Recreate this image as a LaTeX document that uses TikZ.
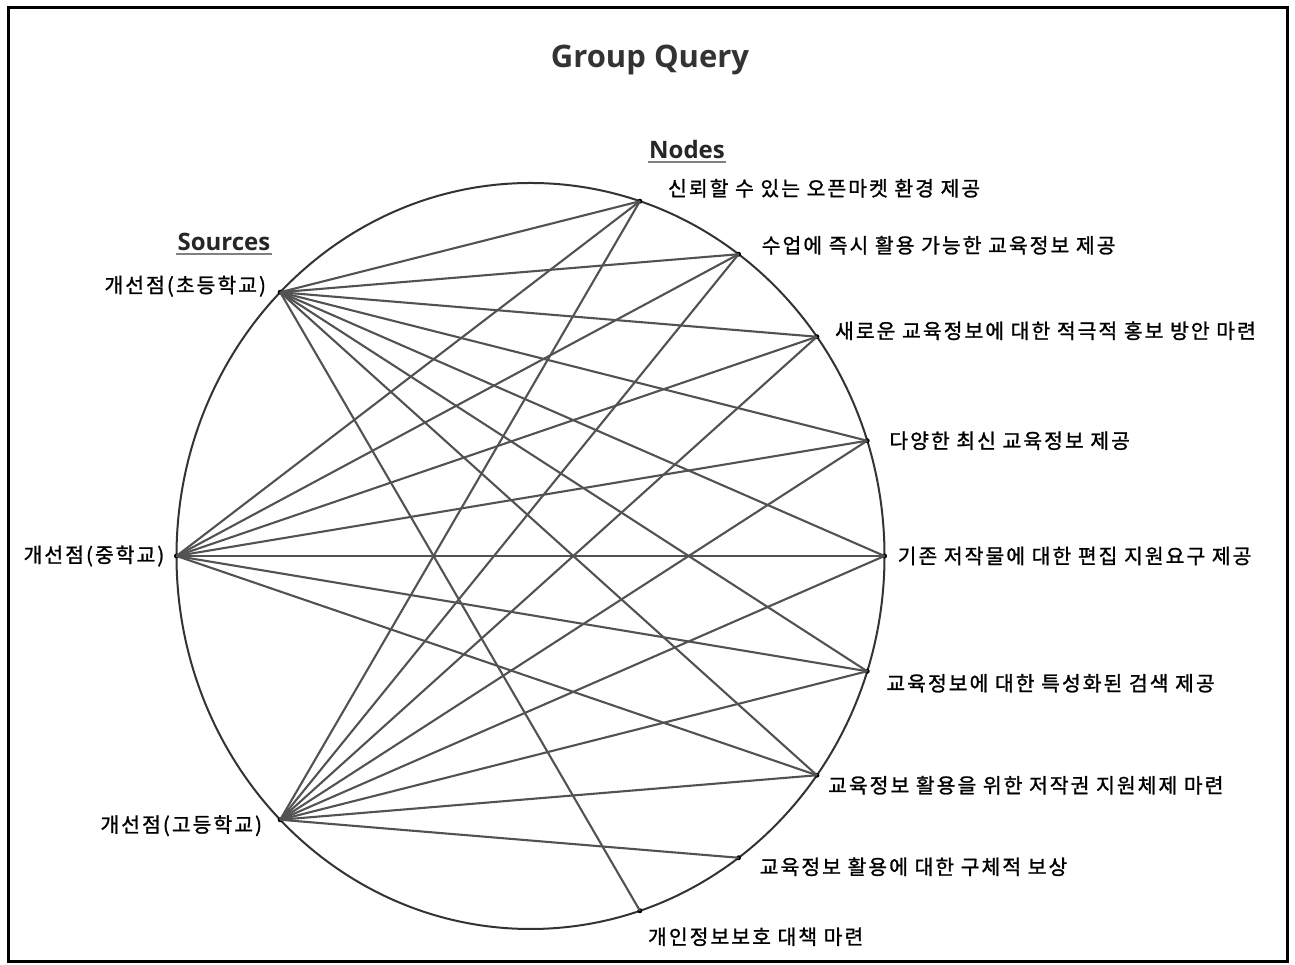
\documentclass[tikz,border=0pt]{standalone}
\usepackage{fontspec}
\setmainfont{Noto Sans CJK KR}
\newfontfamily\lblfont{Noto Sans CJK KR}[LetterSpace=10, FakeBold=1.2]
\newfontfamily\headfont{Open Sans}
\usetikzlibrary{calc}

\tikzset{
  dot/.style={circle, fill=black, inner sep=0pt, minimum size=5pt},
  edge/.style={black!68, line width=2.1pt},
  lbl/.style={font=\lblfont\fontsize{20.4}{22}\selectfont, inner sep=0pt},
  hdr/.style={font=\headfont\bfseries\fontsize{24}{26}\selectfont, text=black!85, inner sep=1pt},
}

\begin{document}
\begin{tikzpicture}[x=1pt, y=1pt]

	\def\cx{530.5}
	\def\cy{409}
	\def\rx{354}
	\def\ry{373}

	\useasboundingbox (0,0) rectangle (1295,965);
	\draw[line width=3pt] (8,3) rectangle (1287,957);

	% ── Titulo ───────────────────────────────────────────────
	\node[font=\headfont\bfseries\fontsize{31}{34}\selectfont, text=black!80] (title) at (650,905) {Group Query};

	% ── Elipse y puntos ──────────────────────────────────────
	\draw[black!80, line width=2pt] (\cx,\cy) ellipse [x radius=\rx, y radius=\ry];

	\foreach \nm/\ang in {n1/72,n2/54,n3/36,n4/18,n5/0,n6/-18,n7/-36,n8/-54,n9/-72,s1/135,s2/180,s3/225}{
		\node[dot] (\nm) at ({\cx+\rx*cos(\ang)},{\cy+\ry*sin(\ang)}) {};
	}

	% ── Conexiones fuente -> nodo ────────────────────────────
	\foreach \s/\n in {s1/n1,s1/n2,s1/n3,s1/n4,s1/n5,s1/n6,s1/n7,s1/n9,
		s2/n1,s2/n2,s2/n3,s2/n4,s2/n5,s2/n6,s2/n7,
		s3/n1,s3/n2,s3/n3,s3/n4,s3/n5,s3/n6,s3/n7,s3/n8}{
		\draw[edge] (\s.center) -- (\n.center);
	}

	% ── Encabezados subrayados ───────────────────────────────
	\node[hdr] (hnodes) at (687,815) {Nodes};
	\draw[black!50, line width=2pt] ([yshift=-2pt]hnodes.south west) -- ([yshift=-2pt]hnodes.south east);
	\node[hdr] (hsrc) at (224,723) {Sources};
	\draw[black!50, line width=2pt] ([yshift=-2pt]hsrc.south west) -- ([yshift=-2pt]hsrc.south east);

	% ── Etiquetas derecha ────────────────────────────────────
	\node[lbl, anchor=west] (t1) at ($(n1)+(28,13)$) {신뢰할 수 있는 오픈마켓 환경 제공};
	\node[lbl, anchor=west] (t2) at ($(n2)+(23,9)$) {수업에 즉시 활용 가능한 교육정보 제공};
	\node[lbl, anchor=west] (t3) at ($(n3)+(18,6)$) {새로운 교육정보에 대한 적극적 홍보 방안 마련};
	\node[lbl, anchor=west] (t4) at ($(n4)+(22,0)$) {다양한 최신 교육정보 제공};
	\node[lbl, anchor=west] (t5) at ($(n5)+(13,0)$) {기존 저작물에 대한 편집 지원요구 제공};
	\node[lbl, anchor=west] (t6) at ($(n6)+(19,-12)$) {교육정보에 대한 특성화된 검색 제공};
	\node[lbl, anchor=west] (t7) at ($(n7)+(11,-10)$) {교육정보 활용을 위한 저작권 지원체제 마련};
	\node[lbl, anchor=west] (t8) at ($(n8)+(21,-9)$) {교육정보 활용에 대한 구체적 보상};
	\node[lbl, anchor=west] (t9) at ($(n9)+(8,-26)$) {개인정보보호 대책 마련};

	% ── Etiquetas izquierda ──────────────────────────────────
	\node[lbl, anchor=east] (u1) at ($(s1)+(-14,6)$) {개선점(초등학교)};
	\node[lbl, anchor=east] (u2) at ($(s2)+(-12,0)$) {개선점(중학교)};
	\node[lbl, anchor=east] (u3) at ($(s3)+(-18,-6)$) {개선점(고등학교)};

\end{tikzpicture}
\end{document}
